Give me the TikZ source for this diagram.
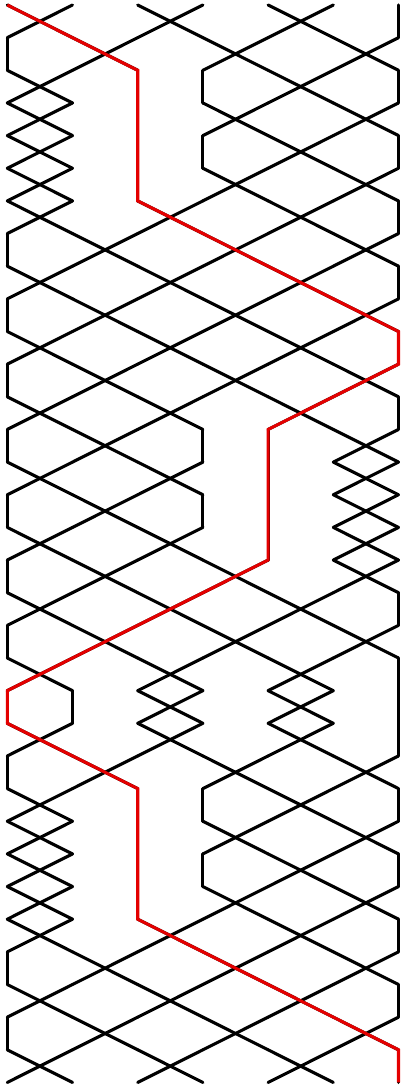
\documentclass[tikz,border=0pt]{standalone}
\usepackage{xcolor}
\usepackage{tikz}
\definecolor{pathred}{RGB}{228,0,0}

\begin{document}
\begin{tikzpicture}[x=65.2pt, y=-32.65pt,
  wire/.style={line width=3.1pt, line cap=round, line join=round},
  strand/.style={wire, draw=black},
  tracked/.style={wire, draw=pathred, line cap=butt, line join=miter}]
  \useasboundingbox (-7.3pt,5pt) rectangle (395.7pt,-1083pt);

  % layer / crossing wires / straight wires
  \foreach \r/\cr/\vt in {
      0/{0,2,4}/{6},   1/{1,3,5}/{0},   2/{0,4}/{2,3,6}, 3/{0,3,5}/{2},
      4/{0,4}/{2,3,6}, 5/{0,3,5}/{2},   6/{0,2,4}/{6},   7/{1,3,5}/{0},
      8/{0,2,4}/{6},   9/{1,3,5}/{0},  10/{0,2,4}/{6},  11/{1,3,5}/{0},
     12/{0,2,4}/{6},  13/{1,5}/{0,3,4}, 14/{0,2,5}/{4}, 15/{1,5}/{0,3,4},
     16/{0,2,5}/{4},  17/{1,3,5}/{0},  18/{0,2,4}/{6},  19/{1,3,5}/{0},
     20/{0,2,4}/{6},  21/{2,4}/{0,1,6}, 22/{0,2,4}/{6}, 23/{1,3,5}/{0},
     24/{0,4}/{2,3,6}, 25/{0,3,5}/{2}, 26/{0,4}/{2,3,6}, 27/{0,3,5}/{2},
     28/{0,2,4}/{6},  29/{1,3,5}/{0},  30/{0,2,4}/{6},  31/{1,3,5}/{0},
     32/{0,2,4}/{6}} {
    \foreach \c in \cr {
      \draw[strand] (\c,\r) -- (\c+1,\r+1);
      \draw[strand] (\c+1,\r) -- (\c,\r+1);
    }
    \foreach \v in \vt
      \draw[strand] (\v,\r) -- (\v,\r+1);
  }

  % highlighted wire
  \draw[tracked] (0,0) \foreach \p [count=\r] in
    {1,2,2,2,2,2,3,4,5,6,6,5,4,4,4,4,4,3,2,1,0,0,1,2,2,2,2,2,3,4,5,6,6}
    { -- (\p,\r) };
\end{tikzpicture}
\end{document}
